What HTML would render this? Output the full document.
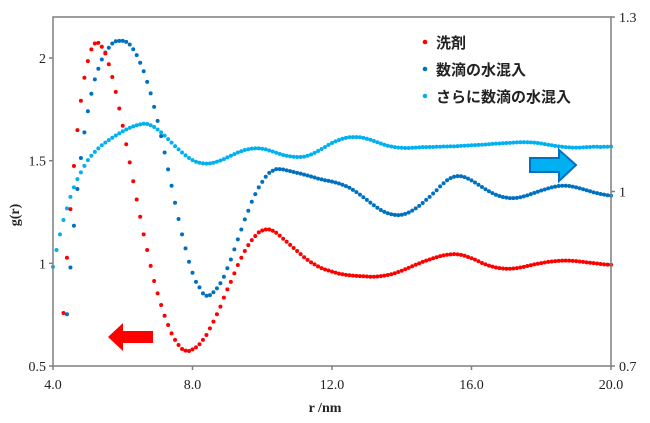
<!DOCTYPE html>
<html><head><meta charset="utf-8">
<style>
html,body{margin:0;padding:0;background:#fff;}
svg{display:block;}
.tk{font-family:"Liberation Serif",serif;font-size:14px;fill:#222;}
.lg{font-family:"Liberation Sans","Noto Sans CJK JP",sans-serif;font-size:15px;font-weight:bold;fill:#222;}
</style></head>
<body>
<svg id="chart" width="650" height="423" viewBox="0 0 650 423" xmlns="http://www.w3.org/2000/svg">
<g id="marks"></g>
<rect x="53" y="17" width="558" height="349" fill="none" stroke="#7f7f7f" stroke-width="1.5"/>
<g id="axes"></g>
<text class="tk" x="325" y="412" text-anchor="middle" font-weight="bold">r /nm</text>
<text class="tk" transform="translate(19,215) rotate(-90)" text-anchor="middle" font-weight="bold">g(r)</text>
<g>
 <circle cx="425" cy="42" r="2.3" fill="#ff0000"/>
 <text class="lg" x="436" y="48">洗剤</text>
 <circle cx="425" cy="69" r="2.3" fill="#0070c0"/>
 <text class="lg" x="436" y="75">数滴の水混入</text>
 <circle cx="425" cy="96" r="2.3" fill="#00b0f0"/>
 <text class="lg" x="436" y="102">さらに数滴の水混入</text>
</g>
<polygon points="108,337 123,323 123,331 153,331 153,343 123,343 123,351" fill="#ff0000"/>
<polygon points="576,165 559,150 559,158 530,158 530,172 559,172 559,181" fill="#00b0f0" stroke="#0070c0" stroke-width="2"/>
</svg>
<script>
const rStep = 0.1;
const redStart = 4.3;
const redValues = [0.758,1.027,1.264,1.474,1.649,1.792,1.904,1.985,2.042,2.071,2.074,2.055,2.022,1.97,1.908,1.835,1.754,1.67,1.58,1.492,1.40,1.311,1.227,1.141,1.065,0.988,0.914,0.854,0.797,0.745,0.70,0.659,0.627,0.602,0.583,0.575,0.573,0.581,0.591,0.606,0.627,0.651,0.683,0.716,0.752,0.789,0.833,0.873,0.910,0.951,0.992,1.027,1.06,1.089,1.113,1.133,1.151,1.16,1.165,1.165,1.159,1.149,
1.135,1.12,1.105,1.09,1.075,1.06,1.045,1.03,1.017,1.005,0.995,0.985,0.977,0.97,0.965,0.96,0.955,0.95,0.947,0.944,0.942,0.94,0.939,0.938,0.937,0.936,0.935,0.935,0.936,0.938,0.94,0.943,0.947,0.952,0.958,0.964,0.971,0.978,0.986,0.993,1.0,1.007,1.013,1.019,1.025,1.03,1.035,1.039,1.042,1.044,1.045,1.044,1.041,1.037,1.031,1.025,1.018,1.01,1.002,0.995,0.989,0.984,0.98,0.977,0.975,0.974,0.974,0.975,0.977,0.98,0.983,0.987,0.991,0.995,0.998,1.001,1.004,1.007,1.009,1.011,1.012,1.013,1.013,1.013,1.012,1.011,1.009,1.007,1.005,1.003,1.001,0.999,0.997,0.995,0.994,0.993];
const blueStart = 4.4;
const blueValues = [0.752,0.98,1.183,1.362,1.513,1.638,1.741,1.826,1.896,1.948,1.993,2.027,2.05,2.071,2.082,2.084,2.084,2.079,2.066,2.043,2.014,1.977,1.936,1.884,1.828,1.762,1.694,1.62,1.54,1.458,1.378,1.295,1.216,1.141,1.073,1.008,0.954,0.91,0.883,0.854,0.842,0.845,0.859,0.878,0.903,0.935,0.976,1.019,1.068,1.117,1.165,1.214,1.256,1.30,1.337,1.37,1.397,1.422,1.441,1.451,1.459,1.459,
1.457,1.453,1.449,1.445,1.441,1.437,1.432,1.428,1.423,1.418,1.413,1.409,1.405,1.402,1.398,1.394,1.389,1.383,1.376,1.368,1.358,1.347,1.335,1.322,1.309,1.296,1.283,1.271,1.26,1.251,1.244,1.239,1.236,1.235,1.237,1.241,1.248,1.257,1.268,1.28,1.294,1.309,1.324,1.34,1.356,1.375,1.39,1.405,1.415,1.422,1.425,1.424,1.42,1.413,1.404,1.394,1.383,1.372,1.361,1.351,1.342,1.334,1.328,1.323,1.32,1.318,1.318,1.319,1.322,1.326,1.331,1.337,1.343,1.349,1.355,1.36,1.365,1.37,1.374,1.377,1.378,1.378,1.377,1.374,1.37,1.366,1.361,1.356,1.351,1.346,1.342,1.338,1.335,1.332,1.33];
const cyanStart = 4.0;
const cyanValues = [0.983,1.065,1.141,1.211,1.268,1.324,1.37,1.41,1.443,1.475,1.503,1.524,1.543,1.56,1.575,1.588,1.60,1.612,1.623,1.633,1.643,1.652,1.66,1.667,1.673,1.677,1.68,1.679,1.673,1.664,1.652,1.638,1.622,1.605,1.588,1.571,1.555,1.54,1.526,1.513,1.503,1.495,1.49,1.487,1.486,1.487,1.49,1.495,1.501,1.508,1.516,1.524,1.532,1.54,1.546,1.552,1.556,1.559,1.56,1.56,1.558,1.555,1.55,1.545,1.539,1.533,1.528,1.524,1.521,1.519,1.518,1.518,1.52,1.524,1.53,1.538,1.547,1.557,1.567,1.577,1.586,1.594,1.601,1.607,1.611,1.614,1.615,1.615,1.614,1.611,1.607,1.602,1.596,1.59,1.584,1.578,1.573,1.569,1.566,1.564,1.563,1.562,1.562,1.563,1.564,1.565,1.566,1.566,1.567,1.567,1.568,1.568,1.569,1.569,1.57,1.57,1.571,1.572,1.573,1.574,1.575,1.576,1.577,1.578,1.579,1.58,1.582,1.583,1.584,1.585,1.586,1.587,1.588,1.589,1.59,1.59,1.59,1.589,1.588,1.586,1.584,1.581,1.578,1.575,1.572,1.57,1.568,1.566,1.565,1.564,1.564,1.564,1.565,1.566,1.567,1.568,1.568,1.567,1.568,1.568,1.569];
const xTicks = [4,8,12,16,20];
const xTickLabels = ["4.0","8.0","12.0","16.0","20.0"];
const yTicks = [0.5,1,1.5,2];
const yTickLabels = ["0.5","1","1.5","2"];
const y2Ticks = [0.7,1,1.3];
const y2TickLabels = ["0.7","1","1.3"];

const NS = "http://www.w3.org/2000/svg";
const X0=53, X1=611, Y0=366, Y1=17;
function xScale(r){return X0+(r-4)/(20-4)*(X1-X0);}
function yScale(g){return Y0-(g-0.5)/(2.2-0.5)*(Y0-Y1);}
function y2Scale(g){return Y0-(g-0.7)/(1.3-0.7)*(Y0-Y1);}
const marks=document.getElementById('marks');
function drawSeries(vals,start,color,name){
  const g=document.createElementNS(NS,'g');
  
  
  vals.forEach((v,i)=>{
    const r=start+i*rStep;
    if(r>20.001) return;
    const c=document.createElementNS(NS,'circle');
    
    
    c.setAttribute('cx',xScale(r));
    c.setAttribute('cy',yScale(v));
    c.setAttribute('r',2);
    c.setAttribute('fill',color);
    g.appendChild(c);
  });
  marks.appendChild(g);
}
drawSeries(cyanValues,cyanStart,'#00b0f0','series-more-water');
drawSeries(blueValues,blueStart,'#0070c0','series-water');
drawSeries(redValues,redStart,'#ff0000','series-detergent');
const axes=document.getElementById('axes');
function mk(tag,attrs,text){const e=document.createElementNS(NS,tag);for(const k in attrs)e.setAttribute(k,attrs[k]);if(text!==undefined)e.textContent=text;axes.appendChild(e);return e;}
xTicks.forEach((t,i)=>{
  const l=mk('line',{x1:xScale(t),x2:xScale(t),y1:Y0,y2:Y0+4,stroke:'#7f7f7f','stroke-width':1.5});
  
  
  const tx=mk('text',{x:xScale(t),y:389,'text-anchor':'middle',class:'tk'},xTickLabels[i]);
  
  
});
yTicks.forEach((t,i)=>{
  const l=mk('line',{x1:X0-4,x2:X0,y1:yScale(t),y2:yScale(t),stroke:'#7f7f7f','stroke-width':1.5});
  
  
  const tx=mk('text',{x:X0-7,y:yScale(t)+5,'text-anchor':'end',class:'tk'},yTickLabels[i]);
  
  
});
y2Ticks.forEach((t,i)=>{
  const l=mk('line',{x1:X1,x2:X1+4,y1:y2Scale(t),y2:y2Scale(t),stroke:'#7f7f7f','stroke-width':1.5});
  
  
  const tx=mk('text',{x:X1+8,y:y2Scale(t)+5,'text-anchor':'start',class:'tk'},y2TickLabels[i]);
  
  
});
</script>
</body></html>
